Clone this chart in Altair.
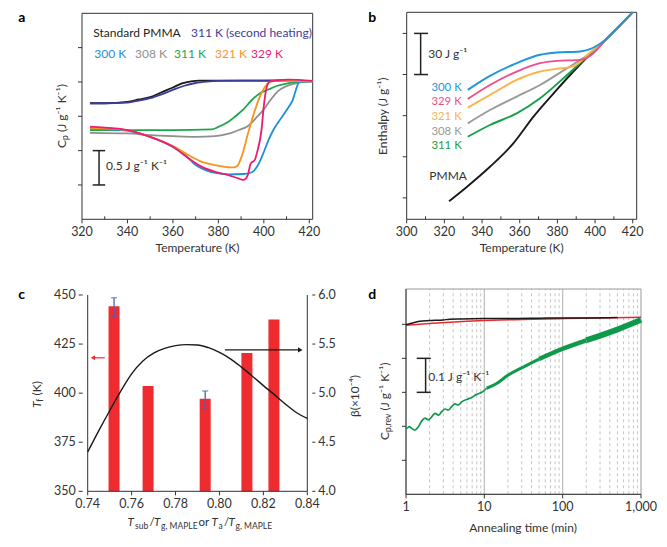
import altair as alt
import pandas as pd

W, H = 651, 531
FONT = "Lato"
INK = "#333333"

# ---------------- panel a : Cp vs temperature ----------------
a_std_T = [323.5, 330, 340, 345, 350, 355, 360, 364, 368, 371.5, 380, 390, 400, 411]
a_std_cp = [1.69, 1.69, 1.71, 1.745, 1.78, 1.85, 1.92, 1.98, 2.01, 2.02, 2.02, 2.02, 2.02, 2.02]
a_2nd_T = [323.5, 330, 340, 345, 350, 355, 360, 365, 370, 375, 380, 390, 400, 412]
a_2nd_cp = [1.69, 1.69, 1.70, 1.73, 1.765, 1.82, 1.885, 1.945, 1.985, 2.005, 2.015, 2.02, 2.02, 2.025]
a_300_T = [323.5, 330, 340, 350, 360, 365.6, 370, 374.3, 378.6, 384.4, 391, 394.7, 396.9, 398.5,
           400, 402, 404.2, 406.5, 408.6, 411, 412.5, 413.8, 415, 416, 421.5]
a_300_cp = [1.32, 1.315, 1.29, 1.20, 1.055, 0.93, 0.79, 0.715, 0.675, 0.655, 0.66, 0.685, 0.76, 0.86,
            0.98, 1.15, 1.30, 1.42, 1.52, 1.64, 1.72, 1.85, 1.97, 2.01, 2.01]
a_308_T = [323.5, 340, 350, 360, 370, 378.6, 385, 389, 393, 397, 400, 403, 406, 410, 414, 418, 421.5]
a_308_cp = [1.26, 1.25, 1.225, 1.21, 1.20, 1.21, 1.25, 1.30, 1.36, 1.49, 1.60, 1.74, 1.86, 1.94, 1.98, 2.005, 2.01]
a_311_T = [323.5, 340, 360, 377, 380, 384.4, 387.5, 391, 394.5, 398, 402, 406, 410.5, 415, 421.5]
a_311_cp = [1.30, 1.30, 1.30, 1.31, 1.345, 1.42, 1.50, 1.60, 1.73, 1.83, 1.89, 1.945, 1.98, 2.0, 2.01]
a_321_T = [323.5, 340, 350, 360, 367, 372.8, 378.6, 384.4, 386.6, 388.4, 390.3, 393.2, 396.1, 399.1,
           401.5, 403.5, 406, 421.5]
a_321_cp = [1.33, 1.30, 1.20, 1.065, 0.933, 0.836, 0.79, 0.758, 0.755, 0.78, 0.92, 1.27, 1.59, 1.85,
            1.97, 2.01, 2.017, 2.01]
a_329_T = [323.5, 340, 350, 360, 367, 372.8, 378.6, 384.4, 388.8, 390.8, 392, 393, 394.2, 396.1, 396.9,
           399.1, 399.8, 401.3, 402.7, 410.6, 421.5]
a_329_cp = [1.35, 1.30, 1.20, 1.055, 0.885, 0.763, 0.69, 0.642, 0.595, 0.575, 0.59, 0.65, 0.81, 0.87, 0.96,
            1.34, 1.59, 1.93, 2.01, 2.035, 2.015]
a_xticks = [320, 340, 360, 380, 400, 420]
a_xlabels = ["320", "340", "360", "380", "400", "420"]
a_minor = [330, 350, 370, 390, 410]
a_yticks = [0.5, 1.0, 1.5, 2.0, 2.5]
a_xdom = [320, 421.5]
a_ydom = [0, 3]

# ---------------- panel b : enthalpy ----------------
b_pmma_T = [322.5, 331.9, 344.2, 356.6, 367.3, 379.6, 388.5, 397.3, 405.3, 413, 420]
b_pmma_H = [-2.4, 8.0, 22.7, 39.8, 59.3, 78.8, 92.2, 104.5, 115.0, 125.5, 135.4]
b_300_T = [332.4, 344.2, 358.4, 370.8, 379.6, 392, 397.3, 401.8, 405.3, 413, 420]
b_300_H = [78.8, 89.0, 98.3, 104.4, 106.1, 106.8, 108.5, 111.7, 115.0, 125.5, 135.4]
b_329_T = [332.4, 344.2, 358.4, 370.8, 379.6, 392, 397.3, 402.6, 405.3, 413, 420]
b_329_H = [72.2, 82.4, 92.2, 98.3, 100.0, 100.7, 103.5, 110.5, 115.0, 125.5, 135.4]
b_321_T = [332.4, 344.2, 358.4, 370.8, 379.6, 388.5, 397.3, 405.3, 413, 420]
b_321_H = [65.9, 75.1, 86.1, 92.2, 94.1, 95.9, 106.0, 115.0, 125.5, 135.4]
b_308_T = [332.4, 344.2, 358.4, 370.8, 385, 397.3, 405.3, 413, 420]
b_308_H = [54.4, 64.1, 73.9, 82.4, 94.5, 105.5, 115.0, 125.5, 135.4]
b_311_T = [332.4, 344.2, 358.4, 370.8, 385, 397.3, 405.3, 413, 420]
b_311_H = [44.6, 53.2, 61.7, 72.7, 89.5, 104.8, 115.0, 125.5, 135.4]
b_xticks = [300, 320, 340, 360, 380, 400, 420]
b_xlabels = ["300", "320", "340", "360", "380", "400", "420"]
b_minor = [310, 330, 350, 370, 390, 410]
b_yticks = [0, 30, 60, 90, 120]
b_xdom = [300, 422.1]
b_ydom = [-15.6, 135.4]
b_labels = ["300 K", "329 K", "321 K", "308 K", "311 K"]

# ---------------- panel c : Tf bars and beta curve ----------------
c_x = [0.752, 0.7675, 0.7935, 0.8125, 0.8248]
c_tf = [444.3, 403.7, 397.2, 420.4, 437.5]
c_err_x = [0.752, 0.7935]
c_err_lo = [438.9, 391.9]
c_err_hi = [448.6, 401.1]
c_curve_x = [0.74, 0.745, 0.75, 0.755, 0.76, 0.765, 0.77, 0.775, 0.78, 0.785, 0.79, 0.795, 0.80,
             0.805, 0.81, 0.815, 0.82, 0.825, 0.83, 0.835, 0.84]
c_curve_b = [4.40, 4.615, 4.821, 5.019, 5.197, 5.326, 5.408, 5.456, 5.484, 5.494, 5.491, 5.463, 5.415,
             5.350, 5.265, 5.173, 5.077, 4.985, 4.889, 4.803, 4.742]
c_xticks = [0.74, 0.76, 0.78, 0.80, 0.82, 0.84]
c_xlabels = ["0.74", "0.76", "0.78", "0.80", "0.82", "0.84"]
c_yl_ticks = [350, 375, 400, 425, 450]
c_yl_labels = ["350", "375", "400", "425", "450"]
c_yr_ticks = [4.0, 4.5, 5.0, 5.5, 6.0]
c_yr_labels = ["4.0", "4.5", "5.0", "5.5", "6.0"]
c_xdom = [0.74, 0.84]
c_ydom = [350, 450]

# ---------------- panel d : annealing ----------------
d_black_t = [1, 1.2, 1.5, 2, 3, 3.6, 5, 10, 20, 50, 100, 200, 500]
d_black_v = [0.499, 0.504, 0.509, 0.511, 0.513, 0.515, 0.516, 0.517, 0.517, 0.518, 0.519, 0.519, 0.520]
d_red_t = [1, 2.2, 6, 16, 42, 110, 300, 1000]
d_red_v = [0.497, 0.503, 0.509, 0.513, 0.515, 0.517, 0.519, 0.521]
d_green_t = [1.0, 1.02, 1.10, 1.18, 1.30, 1.44, 1.59, 1.75, 1.93, 2.13, 2.35, 2.59, 2.86, 3.15, 3.47,
             3.83, 4.23, 4.66, 5.14, 5.96, 6.9, 8.0, 9.3, 10.7, 14.4, 20.2, 30, 50, 100, 200, 500, 1000]
d_green_v = [0.196, 0.194, 0.199, 0.194, 0.189, 0.199, 0.216, 0.224, 0.219, 0.228, 0.238, 0.233, 0.243,
             0.251, 0.248, 0.258, 0.266, 0.263, 0.272, 0.279, 0.285, 0.294, 0.300, 0.312, 0.326, 0.351,
             0.372, 0.398, 0.428, 0.453, 0.485, 0.513]
d_grid_minor = [2, 3, 4, 5, 6, 7, 8, 9, 20, 30, 40, 50, 60, 70, 80, 90, 200, 300, 400, 500, 600, 700, 800, 900]
d_grid_major = [10, 100]
d_xticks = [1, 10, 100, 1000]
d_xlabels = ["1", "10", "100", "1,000"]
d_yticks = [0.1, 0.2, 0.3, 0.4, 0.5]
d_xdom = [1, 1000]
d_ydom = [0, 0.604]


def txt(s, x, y, size=12, color=INK, align="left", angle=None, italic=False, bold=False,
        dx=0, dy=0, baseline="middle", font=FONT):
    kw = dict(font=font, fontSize=size, color=color, align=align, baseline=baseline)
    if angle is not None:
        kw["angle"] = angle
    if italic:
        kw["fontStyle"] = "italic"
    if bold:
        kw["fontWeight"] = "bold"
    if dx:
        kw["dx"] = dx
    if dy:
        kw["dy"] = dy
    return alt.Chart(pd.DataFrame({"s": [s]})).mark_text(**kw).encode(
        x=alt.value(x), y=alt.value(y), text="s:N")


def lines(series, sx, sy, width):
    out = []
    for Tv, vv, c in series:
        df = pd.DataFrame({"x": Tv, "y": vv})
        out.append(alt.Chart(df).mark_line(color=c, strokeWidth=width, interpolate="monotone").encode(
            x=alt.X("x:Q", scale=sx, axis=None), y=alt.Y("y:Q", scale=sy, axis=None)))
    return out


def frame(xd, yd, sx, sy, color):
    df = pd.DataFrame({"x0": [xd[0]], "x1": [xd[1]], "y0": [yd[0]], "y1": [yd[1]]})
    return alt.Chart(df).mark_rect(fillOpacity=0, stroke=color, strokeWidth=1).encode(
        x=alt.X("x0:Q", scale=sx, axis=None), x2=alt.X2("x1"),
        y=alt.Y("y0:Q", scale=sy, axis=None), y2=alt.Y2("y1"))


ONE = pd.DataFrame({"k": [0]})


def hline(x0, x1, y, sx, sy, color=INK, width=1):
    return alt.Chart(ONE).mark_rule(color=color, strokeWidth=width).encode(
        x=alt.XDatum(x0, scale=sx, axis=None), x2=alt.X2Datum(x1),
        y=alt.YDatum(y, scale=sy, axis=None))


def vline(x, y0, y1, sx, sy, color=INK, width=1):
    return alt.Chart(ONE).mark_rule(color=color, strokeWidth=width).encode(
        x=alt.XDatum(x, scale=sx, axis=None), y=alt.YDatum(y0, scale=sy, axis=None),
        y2=alt.Y2Datum(y1))


def sbar(xc, xl, xr, y0, y1, sx, sy):
    c = "#222222"
    return [vline(xc, y0, y1, sx, sy, c, 1.5), hline(xl, xr, y0, sx, sy, c, 1.5),
            hline(xl, xr, y1, sx, sy, c, 1.5)]


def xticks(vals, sx, ybase, length, labels=None):
    df = pd.DataFrame({"v": vals})
    out = [alt.Chart(df).mark_rule(color=INK, strokeWidth=1).encode(
        x=alt.X("v:Q", scale=sx, axis=None), y=alt.value(ybase), y2=alt.value(ybase + length))]
    if labels is not None:
        ldf = pd.DataFrame({"v": vals, "l": labels})
        out.append(alt.Chart(ldf).mark_text(font=FONT, fontSize=12.5, color=INK, align="center",
                                            baseline="top").encode(
            x=alt.X("v:Q", scale=sx, axis=None), y=alt.value(ybase + max(length, 0) + 2.5),
            text="l:N"))
    return out


def yticks(vals, sy, xbase, length, labels=None, side="left"):
    df = pd.DataFrame({"v": vals})
    sgn = -1 if side == "left" else 1
    out = [alt.Chart(df).mark_rule(color=INK, strokeWidth=1).encode(
        y=alt.Y("v:Q", scale=sy, axis=None), x=alt.value(xbase), x2=alt.value(xbase + sgn * length))]
    if labels is not None:
        ldf = pd.DataFrame({"v": vals, "l": labels})
        out.append(alt.Chart(ldf).mark_text(font=FONT, fontSize=12.5, color=INK,
                                            align="right" if side == "left" else "left",
                                            baseline="middle").encode(
            y=alt.Y("v:Q", scale=sy, axis=None), x=alt.value(xbase + sgn * (length + 3)),
            text="l:N"))
    return out


# ---------- panel a ----------
SAX = alt.Scale(domain=a_xdom, range=[74, 304.7], nice=False, zero=False)
SAY = alt.Scale(domain=a_ydom, range=[211.3, 5.3], nice=False, zero=False)
panel_a = alt.layer(
    frame(a_xdom, a_ydom, SAX, SAY, "#333333"),
    *xticks(a_xticks, SAX, 211.3, 4, a_xlabels),
    *xticks(a_minor, SAX, 211.3, -3),
    *yticks(a_yticks, SAY, 74, 4),
    *lines([(a_std_T, a_std_cp, "#1a1a1a"), (a_2nd_T, a_2nd_cp, "#3d3d99"),
            (a_308_T, a_308_cp, "#8f8f8f"), (a_311_T, a_311_cp, "#1ea64b"),
            (a_300_T, a_300_cp, "#1f8fd6"), (a_321_T, a_321_cp, "#f7941e"),
            (a_329_T, a_329_cp, "#ec1c74")], SAX, SAY, 1.8),
    *sbar(327.5, 324.7, 330.2, 0.5, 1.0, SAX, SAY),
)

# ---------- panel b ----------
SBX = alt.Scale(domain=b_xdom, range=[398.7, 628.7], nice=False, zero=False)
SBY = alt.Scale(domain=b_ydom, range=[211.3, 4.3], nice=False, zero=False)
b_cols = ["#1f96d8", "#ef4f88", "#fbb345", "#9a9a9a", "#15a048"]
panel_b = alt.layer(
    frame(b_xdom, b_ydom, SBX, SBY, "#333333"),
    *xticks(b_xticks, SBX, 211.3, 4, b_xlabels),
    *xticks(b_minor, SBX, 211.3, -3),
    *yticks(b_yticks, SBY, 398.7, 4),
    *lines([(b_pmma_T, b_pmma_H, "#1a1a1a"), (b_311_T, b_311_H, b_cols[4]),
            (b_308_T, b_308_H, b_cols[3]), (b_321_T, b_321_H, b_cols[2]),
            (b_329_T, b_329_H, b_cols[1]), (b_300_T, b_300_H, b_cols[0])], SBX, SBY, 1.9),
    *sbar(307.4, 303.9, 311.3, 90, 120, SBX, SBY),
)

# ---------- panel c ----------
SCX = alt.Scale(domain=c_xdom, range=[74.7, 304.3], nice=False, zero=False)
SCYL = alt.Scale(domain=c_ydom, range=[483.3, 287], nice=False, zero=False)
SCYR = alt.Scale(domain=[4.0, 6.0], range=[483.3, 287], nice=False, zero=False)
RED = "#ee2b2f"
ERR = "#4a5fc2"
bars = alt.Chart(pd.DataFrame({"x": c_x, "tf": c_tf})).mark_bar(color=RED, size=11).encode(
    x=alt.X("x:Q", scale=SCX, axis=None),
    y=alt.Y("tf:Q", scale=SCYL, axis=None),
    y2=alt.Y2Datum(350))
err_df = pd.DataFrame({"x": c_err_x, "lo": c_err_lo, "hi": c_err_hi})
err = alt.Chart(err_df).mark_rule(color=ERR, strokeWidth=1.3).encode(
    x=alt.X("x:Q", scale=SCX, axis=None), y=alt.Y("lo:Q", scale=SCYL, axis=None), y2=alt.Y2("hi"))
cap_lo = alt.Chart(err_df).mark_tick(color=ERR, orient="horizontal", size=6, thickness=1.3).encode(
    x=alt.X("x:Q", scale=SCX, axis=None), y=alt.Y("lo:Q", scale=SCYL, axis=None))
cap_hi = alt.Chart(err_df).mark_tick(color=ERR, orient="horizontal", size=6, thickness=1.3).encode(
    x=alt.X("x:Q", scale=SCX, axis=None), y=alt.Y("hi:Q", scale=SCYL, axis=None))
red_head = alt.Chart(ONE).mark_point(shape="triangle-left", filled=True, color=RED, size=24, opacity=1).encode(
    x=alt.XDatum(0.7424, scale=SCX, axis=None), y=alt.YDatum(418, scale=SCYL, axis=None))
c_left = alt.layer(
    *xticks(c_xticks, SCX, 483.3, 4, c_xlabels),
    *yticks(c_yl_ticks, SCYL, 74.7, 4, c_yl_labels),
    bars, err, cap_lo, cap_hi,
    hline(0.7478, 0.7425, 418, SCX, SCYL, RED, 1.2), red_head,
    vline(c_xdom[0], c_ydom[0], c_ydom[1], SCX, SCYL),
    vline(c_xdom[1], c_ydom[0], c_ydom[1], SCX, SCYL),
    hline(c_xdom[0], c_xdom[1], c_ydom[0], SCX, SCYL),
)
curve = alt.Chart(pd.DataFrame({"x": c_curve_x, "b": c_curve_b})).mark_line(
    color="#1a1a1a", strokeWidth=1.4, interpolate="monotone").encode(
    x=alt.X("x:Q", scale=SCX, axis=None), y=alt.Y("b:Q", scale=SCYR, axis=None))
blk_head = alt.Chart(ONE).mark_point(shape="triangle-right", filled=True, color="#1a1a1a", size=28, opacity=1).encode(
    x=alt.XDatum(0.8368, scale=SCX, axis=None), y=alt.YDatum(5.44, scale=SCYR, axis=None))
c_right = alt.layer(
    *yticks(c_yr_ticks, SCYR, 304.3, 3, c_yr_labels, side="right"),
    curve, hline(0.8025, 0.8365, 5.44, SCX, SCYR, "#1a1a1a", 1.2), blk_head)
panel_c = alt.layer(c_left, c_right).resolve_scale(y="independent")

# ---------- panel d ----------
SDX = alt.Scale(type="log", domain=d_xdom, range=[398, 633], nice=False)
SDY = alt.Scale(domain=d_ydom, range=[486.3, 281], nice=False, zero=False)
grid_minor = alt.Chart(pd.DataFrame({"x": d_grid_minor})).mark_rule(
    color="#c4c4c4", strokeWidth=1, strokeDash=[3, 3]).encode(
    x=alt.X("x:Q", scale=SDX, axis=None), y=alt.YDatum(d_ydom[0], scale=SDY, axis=None),
    y2=alt.Y2Datum(d_ydom[1]))
grid_major = alt.Chart(pd.DataFrame({"x": d_grid_major})).mark_rule(
    color="#bdbdbd", strokeWidth=1.2).encode(
    x=alt.X("x:Q", scale=SDX, axis=None), y=alt.YDatum(d_ydom[0], scale=SDY, axis=None),
    y2=alt.Y2Datum(d_ydom[1]))
gdf = pd.DataFrame({"x": d_green_t, "y": d_green_v})
GREEN = "#0e9a4a"


def green_part(cond, width):
    return alt.Chart(gdf).transform_filter(cond).mark_line(
        color=GREEN, strokeWidth=width, interpolate="monotone").encode(
        x=alt.X("x:Q", scale=SDX, axis=None), y=alt.Y("y:Q", scale=SDY, axis=None))


panel_d = alt.layer(
    grid_minor, grid_major,
    frame(d_xdom, d_ydom, SDX, SDY, "#9a9a9a"),
    vline(d_xdom[0], d_ydom[0], d_ydom[1], SDX, SDY),
    hline(d_xdom[0], d_xdom[1], d_ydom[0], SDX, SDY),
    *xticks(d_xticks, SDX, 486.3, 4, d_xlabels),
    *yticks(d_yticks, SDY, 398, 4),
    *lines([(d_red_t, d_red_v, "#e52b2f"), (d_black_t, d_black_v, "#1a1a1a")], SDX, SDY, 1.5),
    green_part(alt.datum.x <= 11, 1.7),
    green_part((alt.datum.x >= 10) & (alt.datum.x <= 55), 3.0),
    green_part((alt.datum.x >= 45) & (alt.datum.x <= 250), 4.4),
    green_part(alt.datum.x >= 190, 5.8),
    *sbar(1.78, 1.37, 2.07, 0.3, 0.4, SDX, SDY),
)

# ---------- texts ----------
CY = 515  # row of panel c x title
texts = [
    # panel letters
    txt("a", 13.7, 9.5, size=14, color="#000000", align="center", bold=True),
    txt("b", 364.3, 9.5, size=14, color="#000000", align="center", bold=True),
    txt("c", 13.7, 287, size=14, color="#000000", align="center", bold=True),
    txt("d", 364.3, 287, size=14, color="#000000", align="center", bold=True),
    # panel a legend
    txt("Standard PMMA", 85.3, 25.3, color="#231f20"),
    txt("311 K (second heating)", 183, 25.3, color="#3d3d99"),
    txt("300 K", 86.3, 46, color="#1f8fd6"),
    txt("308 K", 127, 46, color="#8f8f8f"),
    txt("311 K", 166, 46, color="#1ea64b"),
    txt("321 K", 207, 46, color="#f7941e"),
    txt("329 K", 243, 46, color="#ec1c74"),
    txt("0.5 J g⁻¹ K⁻¹", 98, 157.7),
    txt("Temperature (K)", 189.5, 240.3, align="center"),
    txt("C", 53.7, 140, angle=270),
    txt("p", 53.7, 140, size=8.5, angle=270, dx=7.9, dy=3),
    txt("(J g⁻¹ K⁻¹)", 53.7, 140, angle=270, dx=16),
    # panel b
    txt("30 J g⁻¹", 420.3, 46),
    txt("PMMA", 421.3, 167.7),
    txt("Enthalpy (J g⁻¹)", 375.3, 108.2, angle=270, align="center"),
    txt("Temperature (K)", 513.7, 240.3, align="center"),
    # panel c
    txt("T", 28.7, 400, angle=270, italic=True),
    txt("f", 28.7, 400, size=8.5, angle=270, dx=6.3, dy=3),
    txt("(K)", 28.7, 400, angle=270, dx=12.5),
    txt("β(×10⁻⁴)", 347, 388, angle=270, align="center"),
    txt("T", 119.5, CY, size=11.5, italic=True),
    txt("sub", 127, CY, size=8.5, dy=3),
    txt("/", 141.5, CY, size=11.5),
    txt("T", 146, CY, size=11.5, italic=True),
    txt("g, MAPLE", 153, CY, size=8.5, dy=3),
    txt("or", 190.5, CY, size=11.5),
    txt("T", 203.5, CY, size=11.5, italic=True),
    txt("a", 210.5, CY, size=8.5, dy=3),
    txt("/", 216, CY, size=11.5),
    txt("T", 220.5, CY, size=11.5, italic=True),
    txt("g, MAPLE", 227.5, CY, size=8.5, dy=3),
    # panel d
    txt("0.1 J g⁻¹ K⁻¹", 420.3, 368.7),
    txt("C", 377, 432, angle=270),
    txt("p,rev", 377, 432, size=8.5, angle=270, dx=7.9, dy=3),
    txt("(J g⁻¹ K⁻¹)", 377, 432, angle=270, dx=29.5),
    txt("Annealing time (min)", 515, 520, align="center"),
]
for lab, col, yy in zip(b_labels, b_cols, [79.6, 94.2, 108.9, 123.7, 137.9]):
    texts.append(txt(lab, 453.7, yy, size=11.4, color=col, align="right"))

chart = alt.layer(panel_a, panel_b, panel_c, panel_d, *texts).resolve_scale(
    x="independent", y="independent").properties(
    width=W, height=H, padding=0, background="white",
    autosize=alt.AutoSizeParams(type="none")).configure_view(strokeWidth=0)

chart.save("out.html", embed_options={"renderer": "svg", "actions": False})
